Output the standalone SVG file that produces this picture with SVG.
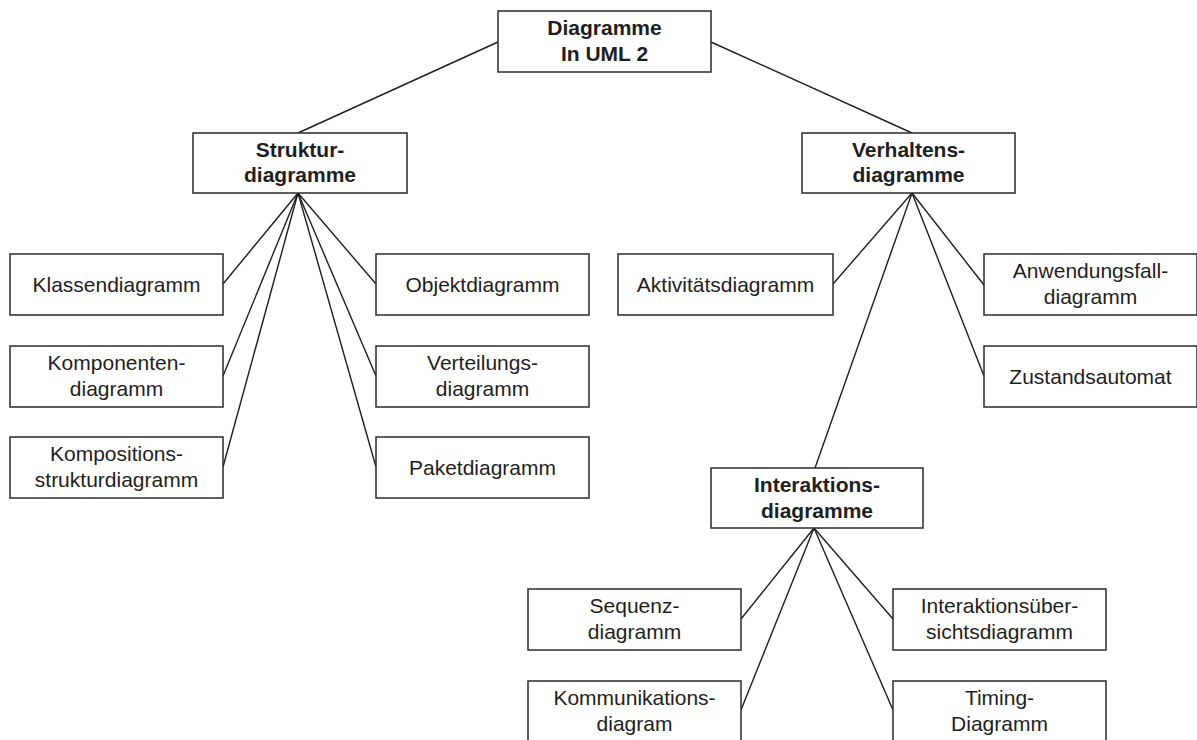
<svg xmlns="http://www.w3.org/2000/svg" width="1197" height="740" viewBox="0 0 1197 740">
<style>
.box{fill:#fff;stroke:#2a2a2a;stroke-width:1.5}
.t{font-family:"Liberation Sans",Arial,sans-serif;font-size:21px;fill:#1e1e1e;text-anchor:middle}
.b{font-weight:bold}
.c{stroke:#1e1e1e;stroke-width:1.4;fill:none}
</style>
<rect width="1197" height="740" fill="#fff"/>
<g id="connectors">
<line class="c" x1="498" y1="42" x2="298" y2="133"/>
<line class="c" x1="711" y1="42" x2="912" y2="133"/>
<line class="c" x1="298" y1="193" x2="223" y2="284"/>
<line class="c" x1="298" y1="193" x2="223" y2="376"/>
<line class="c" x1="298" y1="193" x2="223" y2="467"/>
<line class="c" x1="298" y1="193" x2="376" y2="284"/>
<line class="c" x1="298" y1="193" x2="376" y2="376"/>
<line class="c" x1="298" y1="193" x2="376" y2="467"/>
<line class="c" x1="912" y1="193" x2="833" y2="284"/>
<line class="c" x1="912" y1="193" x2="984" y2="285"/>
<line class="c" x1="912" y1="193" x2="984" y2="376"/>
<line class="c" x1="912" y1="193" x2="815" y2="468"/>
<line class="c" x1="814" y1="528" x2="741" y2="619"/>
<line class="c" x1="814" y1="528" x2="741" y2="710"/>
<line class="c" x1="814" y1="528" x2="893" y2="619"/>
<line class="c" x1="814" y1="528" x2="893" y2="710"/>
</g>
<g id="root"><rect class="box" x="498" y="11" width="213" height="61"/><text class="t b" x="604.5" y="35">Diagramme</text><text class="t b" x="604.5" y="60.5">In UML 2</text></g>
<g id="struktur"><rect class="box" x="193" y="133" width="214" height="60"/><text class="t b" x="300" y="156.5">Struktur-</text><text class="t b" x="300" y="182">diagramme</text></g>
<g id="verhalten"><rect class="box" x="802" y="133" width="213" height="60"/><text class="t b" x="908.5" y="156.5">Verhaltens-</text><text class="t b" x="908.5" y="182">diagramme</text></g>
<g id="klassen"><rect class="box" x="10" y="254" width="213" height="61"/><text class="t" x="116.5" y="292">Klassendiagramm</text></g>
<g id="komponenten"><rect class="box" x="10" y="346" width="213" height="61"/><text class="t" x="116.5" y="370">Komponenten-</text><text class="t" x="116.5" y="395.5">diagramm</text></g>
<g id="kompositions"><rect class="box" x="10" y="437" width="213" height="61"/><text class="t" x="116.5" y="461">Kompositions-</text><text class="t" x="116.5" y="486.5">strukturdiagramm</text></g>
<g id="objekt"><rect class="box" x="376" y="254" width="213" height="61"/><text class="t" x="482.5" y="292">Objektdiagramm</text></g>
<g id="verteilungs"><rect class="box" x="376" y="346" width="213" height="61"/><text class="t" x="482.5" y="370">Verteilungs-</text><text class="t" x="482.5" y="395.5">diagramm</text></g>
<g id="paket"><rect class="box" x="376" y="437" width="213" height="61"/><text class="t" x="482.5" y="475">Paketdiagramm</text></g>
<g id="aktivitaet"><rect class="box" x="618" y="254" width="215" height="61"/><text class="t" x="725.5" y="292">Aktivitätsdiagramm</text></g>
<g id="anwendungsfall"><rect class="box" x="984" y="254" width="213" height="61"/><text class="t" x="1090.5" y="278">Anwendungsfall-</text><text class="t" x="1090.5" y="303.5">diagramm</text></g>
<g id="zustand"><rect class="box" x="984" y="346" width="213" height="61"/><text class="t" x="1090.5" y="384">Zustandsautomat</text></g>
<g id="interaktion"><rect class="box" x="711" y="468" width="212" height="60"/><text class="t b" x="817" y="491.5">Interaktions-</text><text class="t b" x="817" y="517.5">diagramme</text></g>
<g id="sequenz"><rect class="box" x="528" y="589" width="213" height="61"/><text class="t" x="634.5" y="613">Sequenz-</text><text class="t" x="634.5" y="638.5">diagramm</text></g>
<g id="kommunikation"><rect class="box" x="528" y="681" width="213" height="61"/><text class="t" x="634.5" y="705">Kommunikations-</text><text class="t" x="634.5" y="730.5">diagram</text></g>
<g id="interaktionsuebersicht"><rect class="box" x="893" y="589" width="213" height="61"/><text class="t" x="999.5" y="613">Interaktionsüber-</text><text class="t" x="999.5" y="638.5">sichtsdiagramm</text></g>
<g id="timing"><rect class="box" x="893" y="681" width="213" height="61"/><text class="t" x="999.5" y="705">Timing-</text><text class="t" x="999.5" y="730.5">Diagramm</text></g>
</svg>
